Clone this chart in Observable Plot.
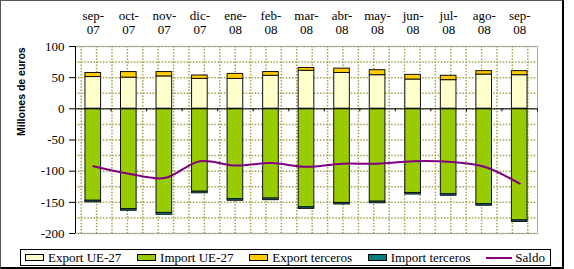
<!DOCTYPE html>
<html>
<head>
<meta charset="utf-8">
<script src="https://cdn.jsdelivr.net/npm/d3@7"></script>
<script src="https://cdn.jsdelivr.net/npm/@observablehq/plot@0.6"></script>
<style>
  html, body { margin: 0; padding: 0; background: #fff; }
  #wrap { position: relative; width: 574px; height: 269px; overflow: hidden; background: #fff; }
  #chart { position: absolute; left: 0; top: 0; }
  #chart svg [aria-label$="tick label"], #chart svg [aria-label$="tick label"] text {
    font-family: "Liberation Serif", "Times New Roman", serif !important; }
  #border { position: absolute; left: 0; top: 0; width: 561px; height: 266px;
            border-left: 1px solid #555; border-top: 1px solid #555;
            border-right: 2px solid #000; border-bottom: 2px solid #000; pointer-events: none; }
  #legend { position: absolute; left: 20px; top: 249px; width: 520px; height: 15px;
            border: 1px solid #000; background: #fff; display: flex; align-items: center;
            justify-content: space-between; padding: 0 5px 0 4px; box-sizing: content-box;
            font-family: "Liberation Serif", "Times New Roman", serif; font-size: 13px; line-height: 15px; }
  #legend .item { display: flex; align-items: center; white-space: nowrap; }
  #legend .sw { width: 17px; height: 5px; border: 1px solid #000; margin-right: 4px; }
  #legend .ln { width: 26px; height: 2px; background: #800080; margin-right: 3px; }
</style>
</head>
<body>
<div id="wrap">
  <div id="chart"></div>
  <div id="border"></div>
  <div id="legend"></div>
</div>
<script>
const months = ["sep-07","oct-07","nov-07","dic-07","ene-08","feb-08","mar-08","abr-08","may-08","jun-08","jul-08","ago-08","sep-08"];
const exportUE = [51, 50, 52, 48, 48, 53, 61, 57.5, 54, 47, 46, 55, 54];
const exportTerceros = [6.5, 9, 7, 5.5, 8, 6, 4.5, 7, 8, 7.5, 7, 5.5, 6.5];
const importUE = [-147.5, -161, -167, -133, -145, -144, -158, -151, -149, -135, -137, -153, -179];
const importTerceros = [-2.5, -2.5, -3, -2.5, -2.5, -2.5, -2.5, -2.5, -2.5, -2.5, -2.5, -2.5, -2.5];
const saldo = [-92, -104, -111, -84, -91, -87, -93, -88, -88, -84, -85, -93, -120];
const yTicks = [-200, -150, -100, -50, 0, 50, 100];
const seriesNames = ["Export UE-27", "Import UE-27", "Export terceros", "Import terceros", "Saldo"];
const seriesColors = ["#FFFFCC", "#99CC00", "#FFCC00", "#008080", "#800080"];

const rows = months.map((m, i) => ({
  m, x: i + 0.5,
  eUE: exportUE[i], eT: exportTerceros[i],
  iUE: importUE[i], iT: importTerceros[i], saldo: saldo[i]
}));

const serif = "Liberation Serif, Times New Roman, serif";
const hw = 0.22;
const gridStyle = {stroke: "#a3a347", strokeWidth: 1.5, strokeDasharray: "1.5,1.6"};
const barStyle = {stroke: "#111", strokeWidth: 1};

const plot = Plot.plot({
  width: 574,
  height: 245,
  marginLeft: 75,
  marginRight: 37,
  marginTop: 46,
  marginBottom: 12,
  x: {domain: [0, months.length]},
  y: {domain: [-200, 100]},
  style: {fontFamily: serif, fontSize: "13px", background: "transparent", color: "#000"},
  marks: [
    Plot.ruleY(d3.range(-200, 101, 25), gridStyle),
    Plot.ruleX(d3.range(30).map(k => 0.16 + k * months.length / 30), gridStyle),
    Plot.frame({stroke: "#a8a8a8"}),
    Plot.rectY(rows, {x1: d => d.x - hw, x2: d => d.x + hw, y1: 0, y2: "eUE", fill: seriesColors[0], ...barStyle}),
    Plot.rectY(rows, {x1: d => d.x - hw, x2: d => d.x + hw, y1: "eUE", y2: d => d.eUE + d.eT, fill: seriesColors[2], ...barStyle}),
    Plot.rectY(rows, {x1: d => d.x - hw, x2: d => d.x + hw, y1: 0, y2: "iUE", fill: seriesColors[1], ...barStyle}),
    Plot.rectY(rows, {x1: d => d.x - hw, x2: d => d.x + hw, y1: "iUE", y2: d => d.iUE + d.iT, fill: seriesColors[3], ...barStyle}),
    Plot.ruleY([0], {stroke: "#000", strokeWidth: 1}),
    Plot.ruleX(d3.range(1, months.length + 1), {y1: 0, y2: 0, insetBottom: -3, stroke: "#000"}),
    Plot.line(rows, {x: "x", y: "saldo", stroke: seriesColors[4], strokeWidth: 2, curve: "catmull-rom"}),
    Plot.ruleX([0], {stroke: "#000", strokeWidth: 1}),
    Plot.axisY({ticks: yTicks, tickSize: 6, tickPadding: 5, tickFormat: d => String(d), label: null,
                fontSize: 13, fontFamily: serif}),
    Plot.axisX({anchor: "top", ticks: rows.map(d => d.x), tickSize: 0, tickPadding: 13,
                tickFormat: v => months[Math.floor(v)].replace("-", "-\n"), label: null,
                fontSize: 13, fontFamily: serif, lineHeight: 1.05}),
    Plot.text(["Millones de euros"], {frameAnchor: "left", rotate: -90, dx: -54, dy: -4,
      fontFamily: "Liberation Sans, Arial, sans-serif", fontWeight: "bold", fontSize: 10.5})
  ]
});
document.getElementById("chart").appendChild(plot);

const legend = document.getElementById("legend");
seriesNames.forEach((name, i) => {
  const item = document.createElement("div");
  item.className = "item";
  const sw = document.createElement("span");
  if (i === 4) { sw.className = "ln"; }
  else { sw.className = "sw"; sw.style.background = seriesColors[i]; }
  item.appendChild(sw);
  const t = document.createElement("span");
  t.textContent = name;
  item.appendChild(t);
  legend.appendChild(item);
});
</script>
</body>
</html>
